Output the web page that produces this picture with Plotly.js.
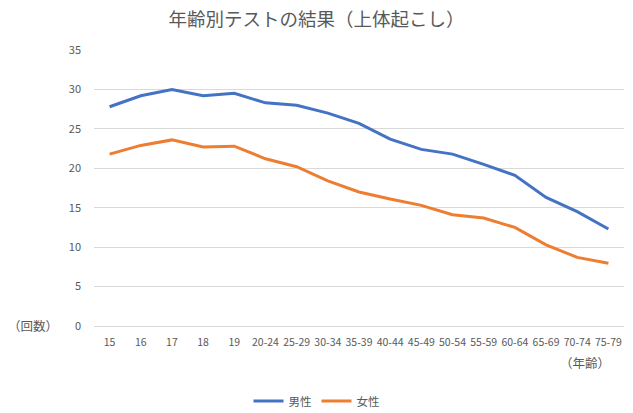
<!DOCTYPE html>
<html>
<head>
<meta charset="utf-8">
<script src="https://cdn.plot.ly/plotly-3.0.1.min.js"></script>
<style>html,body{margin:0;padding:0;background:#fff;}#chart{width:633px;height:413px;}</style>
</head>
<body>
<div id="chart"></div>
<script>
const categories = ["15","16","17","18","19","20-24","25-29","30-34","35-39","40-44","45-49","50-54","55-59","60-64","65-69","70-74","75-79"];
const maleValues = [27.8,29.2,30.0,29.2,29.5,28.3,28.0,27.0,25.7,23.7,22.4,21.8,20.5,19.1,16.3,14.5,12.3];
const femaleValues = [21.8,22.9,23.6,22.7,22.8,21.2,20.2,18.4,17.0,16.1,15.3,14.1,13.7,12.5,10.3,8.7,7.95];
const seriesNames = ["男性","女性"];
const yTicks = [0,5,10,15,20,25,30,35];

const FONT = '"Noto Sans CJK JP", "Noto Sans", sans-serif';
const GRAY = '#595959';

const traces = [
  {x: categories, y: maleValues, name: seriesNames[0], type: 'scatter', mode: 'lines',
   line: {color: '#4472C4', width: 3}},
  {x: categories, y: femaleValues, name: seriesNames[1], type: 'scatter', mode: 'lines',
   line: {color: '#ED7D31', width: 3}}
];

const layout = {
  width: 633, height: 413,
  margin: {l: 94, r: 9, t: 50, b: 87, autoexpand: false},
  paper_bgcolor: '#fff', plot_bgcolor: '#fff',
  font: {family: FONT, color: GRAY, size: 11},
  title: {text: '年齢別テストの結果（上体起こし）', x: 0.5, xanchor: 'center', xref: 'container',
          y: 1 - 20/413, yanchor: 'middle', yref: 'container',
          font: {family: FONT, size: 18.5, color: GRAY}},
  xaxis: {type: 'category', range: [-0.5, categories.length - 0.5], showgrid: false, zeroline: false, showline: false,
          ticks: '', tickfont: {size: 10.5, color: GRAY, family: FONT}, tickangle: 0, fixedrange: true,
          ticklabelstandoff: 8},
  yaxis: {range: [0, 35], tickvals: yTicks, showgrid: true, gridcolor: '#D9D9D9', gridwidth: 1,
          zeroline: true, zerolinecolor: '#D9D9D9', zerolinewidth: 1, showline: false, ticks: '',
          ticklen: 0, tickfont: {size: 11, color: GRAY, family: FONT}, fixedrange: true, ticklabelstandoff: 12},
  showlegend: true,
  legend: {orientation: 'h', x: 0.5, xanchor: 'center', xref: 'container', y: 1 - 401/413, yanchor: 'middle', yref: 'container',
           font: {size: 11.5, color: GRAY, family: FONT}, tracegroupgap: 0},
  annotations: [
    {text: '（回数）', xref: 'paper', yref: 'y', x: -0.064, y: 0, yshift: 1, xanchor: 'right', yanchor: 'middle',
     showarrow: false, font: {size: 12.5, color: GRAY, family: FONT}},
    {text: '（年齢）', xref: 'paper', yref: 'paper', x: 0.978, y: -0.134, xanchor: 'right', yanchor: 'middle',
     showarrow: false, font: {size: 12.5, color: GRAY, family: FONT}}
  ]
};

Plotly.newPlot('chart', traces, layout, {displayModeBar: false, staticPlot: true});
</script>
</body>
</html>
